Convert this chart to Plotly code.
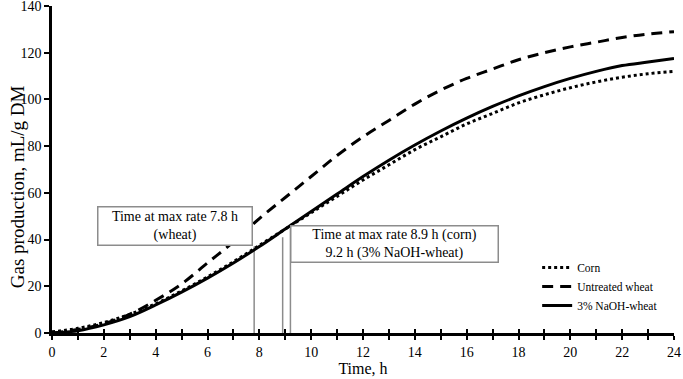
import plotly.graph_objects as go

hours = list(range(0, 25))
corn = [0.5, 2, 4.5, 8, 12.5, 18, 24, 30.5, 37.5, 44.5, 51.5, 58.5, 65.5, 72, 78.5, 84, 89.5, 94, 98.5, 102, 105, 107.5, 109.5, 111, 112]
untreated_wheat = [0, 1.5, 4, 8, 14, 21, 30, 39, 49, 58, 67, 76, 84, 91, 98, 104, 109, 113, 117, 120, 122.5, 124.5, 126.5, 128, 129]
naoh_wheat = [0, 1, 3.5, 7, 12, 17.5, 23.5, 30, 37, 44.5, 52, 59.5, 67, 74, 80.5, 86.5, 92, 97, 101.5, 105.5, 109, 112, 114.5, 116, 117.5]

max_rate_times = [7.8, 8.9, 9.2]
max_rate_tops = [37, 41, 46]

x_tick_vals = list(range(0, 25))
x_tick_text = [str(v) if v % 2 == 0 else "" for v in x_tick_vals]

FONT = "Liberation Serif"

fig = go.Figure()
fig.add_trace(go.Scatter(x=hours, y=corn, name="Corn", mode="lines",
                         line=dict(color="black", width=3, dash="3px,3px", shape="spline")))
fig.add_trace(go.Scatter(x=hours, y=untreated_wheat, name="Untreated wheat", mode="lines",
                         line=dict(color="black", width=3, dash="11px,7px", shape="spline")))
fig.add_trace(go.Scatter(x=hours, y=naoh_wheat, name="3% NaOH-wheat", mode="lines",
                         line=dict(color="black", width=3, shape="spline")))
# invisible trace for overlay axis (crossing ticks)
fig.add_trace(go.Scatter(x=[0, 24], y=[0, 0], xaxis="x2", mode="lines",
                         line=dict(width=0), showlegend=False, hoverinfo="skip"))

for t, top in zip(max_rate_times, max_rate_tops):
    fig.add_shape(type="line", x0=t, x1=t, y0=0, y1=top, xref="x", yref="y",
                  line=dict(color="#8c8c8c", width=1.5), layer="below")

fig.add_annotation(x=4.73, y=45.6, xref="x", yref="y", showarrow=False,
                   text="Time at max rate 7.8 h<br>(wheat)",
                   font=dict(family=FONT, size=14, color="black"),
                   bgcolor="white", bordercolor="#8c8c8c", borderwidth=1.5,
                   width=151, height=35, borderpad=1)
fig.add_annotation(x=13.2, y=38.3, xref="x", yref="y", showarrow=False,
                   text="Time at max rate 8.9 h (corn)<br>9.2 h (3% NaOH-wheat)",
                   font=dict(family=FONT, size=14, color="black"),
                   bgcolor="white", bordercolor="#8c8c8c", borderwidth=1.5,
                   width=204, height=33, borderpad=1)
# y-axis title (placed as annotation to match its offset position)
fig.add_annotation(x=-0.056, y=62.5, xref="paper", yref="y", showarrow=False,
                   xanchor="center", yanchor="middle",
                   text="Gas production, mL/g DM", textangle=-90,
                   font=dict(family=FONT, size=19, color="black"))

fig.update_layout(
    width=683, height=379,
    margin=dict(l=52, r=9, t=6, b=46),
    paper_bgcolor="white", plot_bgcolor="white",
    font=dict(family=FONT, size=14, color="black"),
    showlegend=True,
    legend=dict(x=0.78, y=0.245, xanchor="left", yanchor="top",
                font=dict(family=FONT, size=11.5, color="black"),
                bgcolor="rgba(0,0,0,0)", tracegroupgap=0, itemwidth=30),
    xaxis=dict(range=[0, 24], tickvals=x_tick_vals, ticktext=x_tick_text,
               ticks="outside", ticklen=4, tickwidth=2, tickcolor="black",
               showline=True, linecolor="black", linewidth=2.5,
               showgrid=False, zeroline=False, automargin=False,
               title=dict(text="Time, h", font=dict(size=16), standoff=0),
               tickfont=dict(size=14)),
    xaxis2=dict(range=[0, 24], overlaying="x", side="bottom", tickvals=x_tick_vals,
                showticklabels=False, ticks="inside", ticklen=4, tickwidth=2,
                tickcolor="black", showgrid=False, zeroline=False, showline=False,
                automargin=False),
    yaxis=dict(range=[0, 140], dtick=20, ticks="outside", ticklen=5, tickwidth=2,
               tickcolor="black", showline=True, linecolor="black", linewidth=2.5,
               showgrid=False, zeroline=False, automargin=False,
               ticklabeloverflow="allow",
               tickfont=dict(size=14)),
)

fig.write_html("out.html", config={"displayModeBar": False},
               post_script="document.body.style.margin='0';document.body.style.padding='0';")
